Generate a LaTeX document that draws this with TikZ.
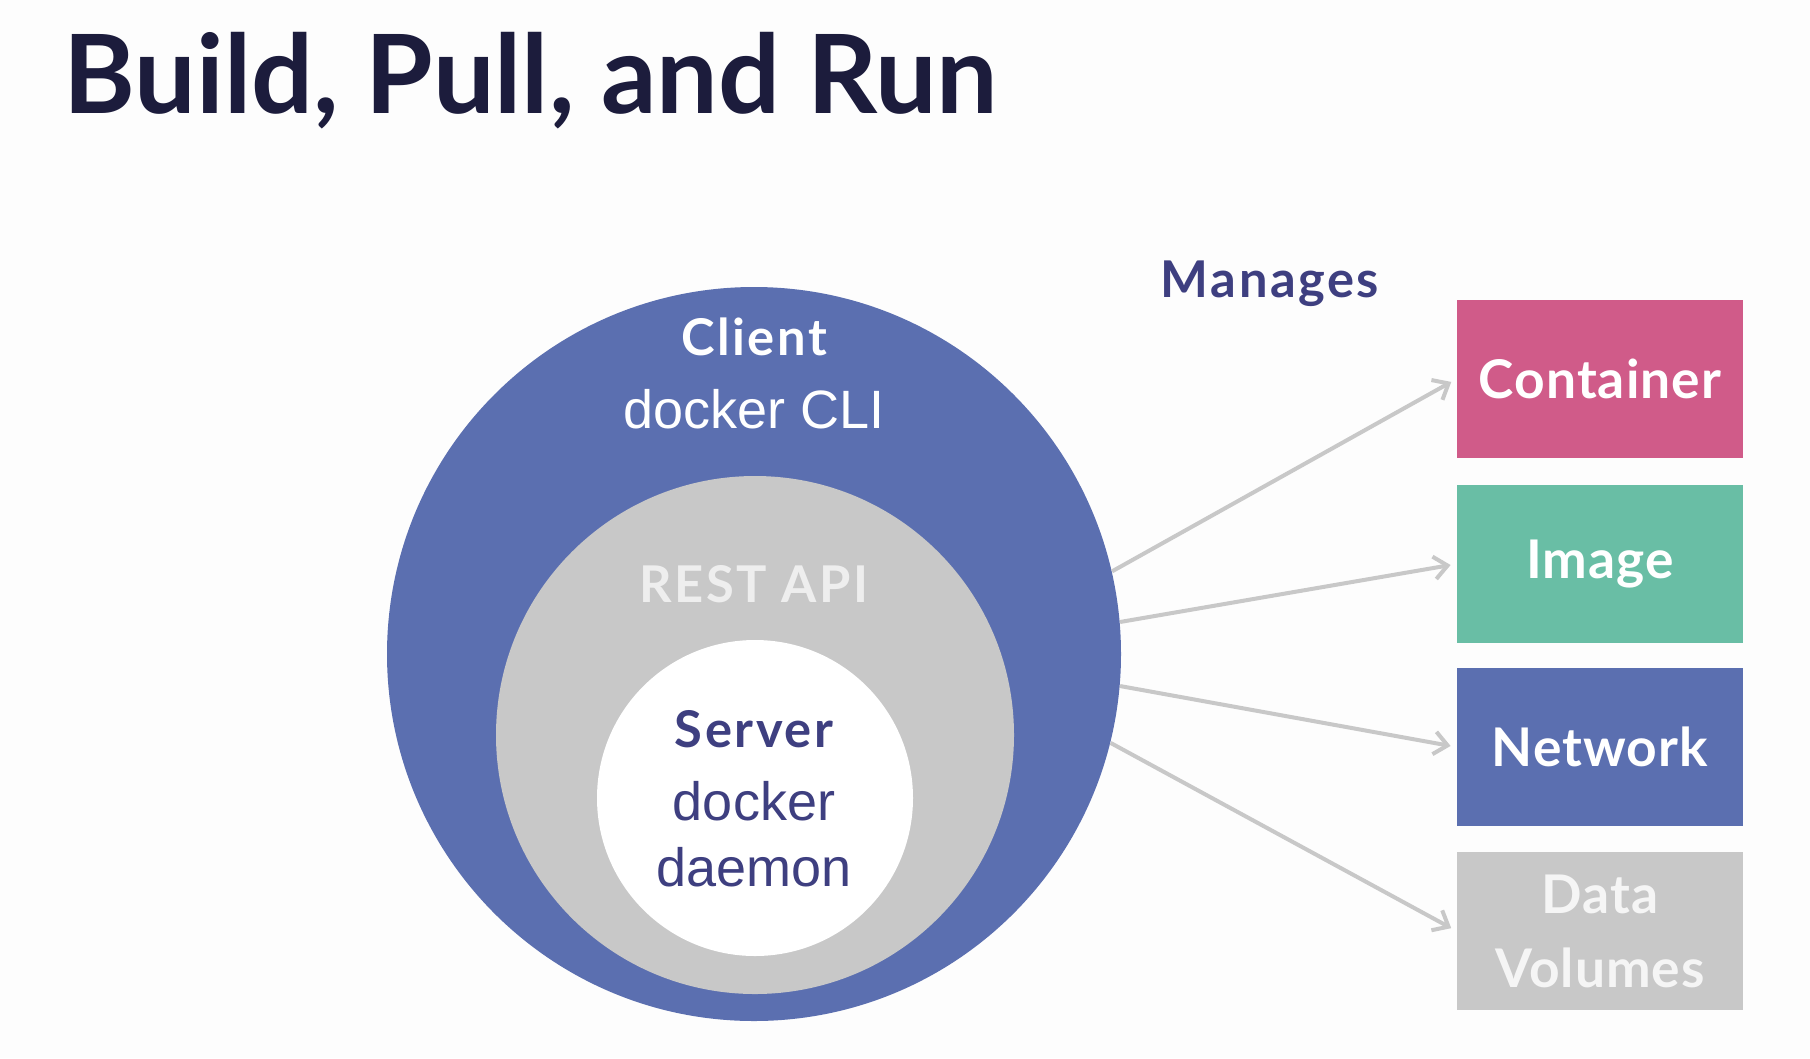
\documentclass[tikz,border=0pt]{standalone}
\usepackage{fontspec}
\setmainfont{Lato}
\newfontfamily\cliface{Liberation Sans}
\newfontfamily\labelface[LetterSpace=5]{Lato}
\newfontfamily\tileface[LetterSpace=2]{Lato}
\usetikzlibrary{arrows.meta}

\tikzset{every picture/.style={line width=0.75pt}}
\tikzset{
  tile/.style={rectangle, minimum width=214.5pt, minimum height=118.5pt, inner sep=0pt, text=white, align=center, font=\tileface\fontsize{40}{55.5}\selectfont\bfseries},
  ring/.style={circle, inner sep=0pt, draw=none},
  manage/.style={draw={rgb, 255:red, 200; green, 200; blue, 200 }, line width=3pt, -{Straight Barb[length=10pt,width=17pt]}, shorten >=4.5pt},
  boldlabel/.style={anchor=base, inner sep=0pt, font=\labelface\fontsize{38}{42}\selectfont\bfseries},
  plainlabel/.style={anchor=base, inner sep=0pt, font=\cliface\fontsize{40.5}{48.5}\selectfont},
}

\begin{document}
\begin{tikzpicture}[x=0.75pt,y=0.75pt,yscale=-1,xscale=1]
	%set diagram to 1810 x 1058
	\fill [color={rgb, 255:red, 253; green, 253; blue, 253 }] (0,0) rectangle (1810,1058);
	\useasboundingbox (0,0) rectangle (1810,1058);

	% Title
	\draw (63,113) node [anchor=base west][inner sep=0pt][font=\fontsize{82}{90}\selectfont\bfseries, text={rgb, 255:red, 28; green, 28; blue, 60 }] (title) {Build, Pull, and Run};

	%Shape: Circle [client]
	\node [ring][minimum size=550.5pt, fill={rgb, 255:red, 91; green, 111; blue, 176 }] (client) at (754,654) {};
	%Shape: Circle [rest api]
	\node [ring][minimum size=388.5pt, fill={rgb, 255:red, 200; green, 200; blue, 200 }] (restapi) at (755,735) {};
	%Shape: Circle [server]
	\node [ring][minimum size=237pt, fill=white] (server) at (755,798) {};

	% Text Node
	\draw (754,355) node [boldlabel][text=white] (clientname) {Client};
	% Text Node
	\draw (754,428) node [plainlabel][text=white] (clientcli) {docker CLI};
	% Text Node
	\draw (754,602) node [boldlabel][text={rgb, 255:red, 238; green, 238; blue, 238 }] (apiname) {REST API};
	% Text Node
	\draw (754,747) node [boldlabel][text={rgb, 255:red, 62; green, 63; blue, 128 }] (servername) {Server};
	% Text Node
	\draw (754,820) node [plainlabel][text={rgb, 255:red, 62; green, 63; blue, 128 }] (serverdocker) {docker};
	% Text Node
	\draw (754,886) node [plainlabel][text={rgb, 255:red, 62; green, 63; blue, 128 }] (serverdaemon) {daemon};
	% Text Node
	\draw (1270,297) node [boldlabel][text={rgb, 255:red, 62; green, 63; blue, 128 }] (manages) {Manages};

	%Shape: Rectangle [managed objects]
	\node [tile][fill={rgb, 255:red, 208; green, 91; blue, 137 }] (container) at (1600,379) {Container};
	\node [tile][fill={rgb, 255:red, 105; green, 190; blue, 165 }] (image) at (1600,564) {Image};
	\node [tile][fill={rgb, 255:red, 91; green, 111; blue, 176 }] (network) at (1600,747) {Network};
	\node [tile][fill={rgb, 255:red, 200; green, 200; blue, 200 }][text={rgb, 255:red, 245; green, 245; blue, 245 }] (volumes) at (1600,931) {Data\\Volumes};

	%Straight Lines
	\draw [manage] (client.13) -- (container.west);
	\draw [manage] (client.5) -- (image.west);
	\draw [manage] (client.-5) -- (network.west);
	\draw [manage] (client.-14) -- (volumes.west);

\end{tikzpicture}
\end{document}
